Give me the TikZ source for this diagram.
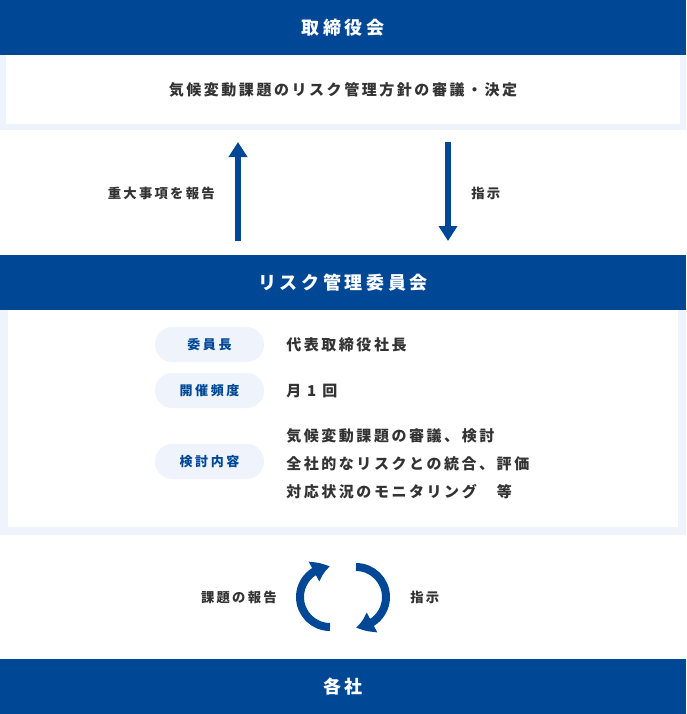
\documentclass[tikz,border=0pt]{standalone}
\usepackage{fontspec}
\setmainfont{Noto Sans CJK JP}[LetterSpace=20]
\newfontfamily\bodyfont{Noto Sans CJK JP}[LetterSpace=17]
\usetikzlibrary{arrows.meta,bending}
\definecolor{navy}{HTML}{004896}
\definecolor{pale}{HTML}{EEF3FC}
\definecolor{ink}{HTML}{333333}
\begin{document}
\begin{tikzpicture}[x=0.75pt,y=-0.75pt,
  band/.style={fill=navy,draw=none,inner sep=0pt,minimum width=514.5pt,minimum height=41.25pt,
    text=white,font=\fontsize{13.5pt}{16pt}\selectfont\bfseries},
  body/.style={text=ink,inner sep=0pt,font=\bodyfont\fontsize{11.25pt}{21pt}\selectfont\bfseries},
  lbl/.style={text=ink,inner sep=0pt,font=\bodyfont\fontsize{10pt}{12pt}\selectfont\bfseries},
  pill/.style={fill=pale,draw=none,rounded corners=13pt,minimum width=81.75pt,minimum height=26.25pt,
    inner sep=0pt,text=navy,font=\fontsize{9.75pt}{12pt}\selectfont\bfseries},
  flow/.style={draw=navy,line width=4.5pt,-{Triangle[length=11.25pt,width=13.5pt]}},
  cyc/.style={draw=navy,line width=6pt,-{Triangle[length=12.75pt,width=15.75pt,bend]}}]
\useasboundingbox (0,0) rectangle (686,714);
% top block
\node[band] (board) at (343,27.5) {取締役会};
\fill[pale] (0,55) rectangle (686,130);
\fill[white] (6,55) rectangle (680,124);
\node[body] (policy) at (343,90) {気候変動課題のリスク管理方針の審議・決定};
% arrows between board and committee
\coordinate (upS) at (238,241);
\coordinate (upE) at (238,142);
\coordinate (dnS) at (448,142);
\coordinate (dnE) at (448,241);
\draw[flow] (upS) -- (upE);
\draw[flow] (dnS) -- (dnE);
\node[lbl,anchor=east] (report) at (215,193) {重大事項を報告};
\node[lbl,anchor=west] (instr) at (471,193) {指示};
% committee block
\node[band] (committee) at (343,282.5) {リスク管理委員会};
\fill[pale] (0,310) rectangle (686,535);
\fill[white] (8,310) rectangle (678,527);
\node[pill] (chair) at (209.5,344.5) {委員長};
\node[pill] (freq) at (209.5,390.5) {開催頻度};
\node[pill] (topics) at (209.5,461.5) {検討内容};
\node[body,anchor=west] (chairv) at (286,345) {代表取締役社長};
\node[body,anchor=west] (freqv) at (286,391) {月 1 回};
\node[body,anchor=west,align=left] (topicsv) at (286,464) {気候変動課題の審議、検討\\全社的なリスクとの統合、評価\\対応状況のモニタリング　等};
% cycle arrows
\coordinate (cycL) at (330,627);
\coordinate (cycR) at (356,567);
\draw[cyc] (cycL) arc[start angle=90,end angle=270,radius=30];
\draw[cyc] (cycR) arc[start angle=270,end angle=450,radius=30];
\node[lbl,anchor=east] (issue) at (277,597) {課題の報告};
\node[lbl,anchor=west] (instr2) at (410,597) {指示};
% group companies
\node[band] (group) at (343,686.5) {各社};
\end{tikzpicture}
\end{document}
